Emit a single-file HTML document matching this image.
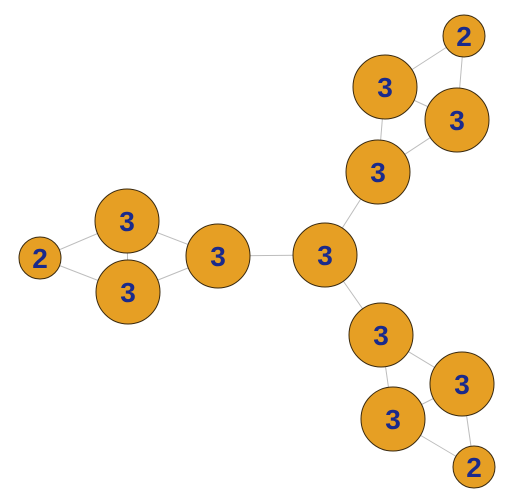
<!DOCTYPE html>
<html><head><meta charset="utf-8"><style>
html,body{margin:0;padding:0;background:#fff;}
svg{display:block;}
</style></head><body>
<svg id="g" width="512" height="502" viewBox="0 0 512 502" xmlns="http://www.w3.org/2000/svg"></svg>
<script>
const nodeIds=["A","B","C","D","E","F","G","H","I","J","K","L","M"];
const nodeX=[40,127,128,218,325,378,385,457,464,381,462,393,474];
const nodeY=[258,221,292,256,255,172,87,120,36,335,384,419,467];
const nodeLabels=["2","3","3","3","3","3","3","3","2","3","3","3","2"];
const edgeFrom=[0,0,1,1,2,3,4,5,5,6,6,7,4,9,9,10,10,11];
const edgeTo=[1,2,2,3,3,4,5,6,7,7,8,8,9,10,11,11,12,12];
const ns="http://www.w3.org/2000/svg";
const svg=document.getElementById('g');
function rad(l){return l==="2"?21:32;}
for(let i=0;i<edgeFrom.length;i++){
  const a=edgeFrom[i],b=edgeTo[i];
  const ln=document.createElementNS(ns,'line');
  
  
  ln.setAttribute('x1',nodeX[a]);ln.setAttribute('y1',nodeY[a]);
  ln.setAttribute('x2',nodeX[b]);ln.setAttribute('y2',nodeY[b]);
  ln.setAttribute('stroke','#bdbdbd');ln.setAttribute('stroke-width','1');
  svg.appendChild(ln);
}
for(let i=0;i<nodeIds.length;i++){
  const c=document.createElementNS(ns,'circle');
  
  
  c.setAttribute('cx',nodeX[i]);c.setAttribute('cy',nodeY[i]);
  c.setAttribute('r',rad(nodeLabels[i]));
  c.setAttribute('fill','#E69F24');c.setAttribute('stroke','#3a2a10');c.setAttribute('stroke-width','1');
  svg.appendChild(c);
  const t=document.createElementNS(ns,'text');
  
  
  t.setAttribute('x',nodeX[i]);t.setAttribute('y',nodeY[i]+10);
  t.setAttribute('text-anchor','middle');
  t.setAttribute('font-family','Liberation Sans, sans-serif');
  t.setAttribute('font-weight','bold');t.setAttribute('font-size','28');
  t.setAttribute('fill','#1a2a8c');
  t.textContent=nodeLabels[i];
  svg.appendChild(t);
}
</script>
</body></html>
